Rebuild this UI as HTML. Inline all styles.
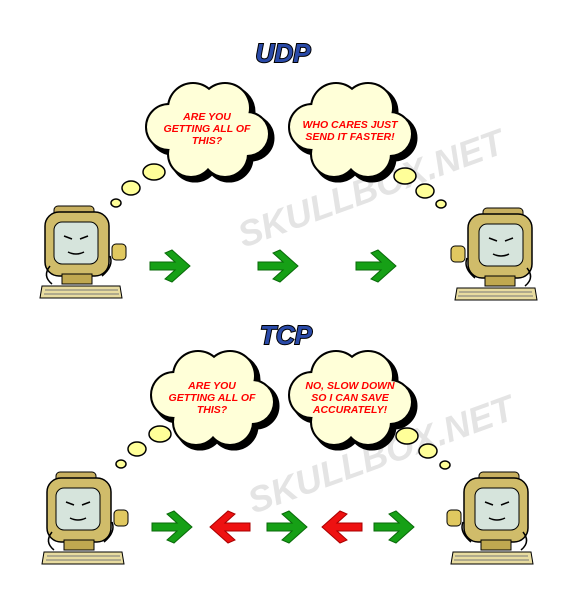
<!DOCTYPE html>
<html><head><style>body{margin:0;background:#fff}svg{display:block}</style></head><body>
<svg width="581" height="603" viewBox="0 0 581 603" xmlns="http://www.w3.org/2000/svg" font-family="Liberation Sans, sans-serif">
<defs>
<g id="cb">
<circle cx="-38" cy="-3" r="22"/><circle cx="-14" cy="-22" r="24"/><circle cx="18" cy="-22" r="24"/><circle cx="40" cy="4" r="21"/><circle cx="18" cy="24" r="22"/><circle cx="-16" cy="24" r="22"/><circle cx="0" cy="0" r="32"/>
</g>
<g id="cloud">
<use href="#cb" transform="translate(4,4)" fill="#000" stroke="#000" stroke-width="5"/>
<use href="#cb" fill="#000" stroke="#000" stroke-width="4"/>
<use href="#cb" fill="#ffffd8"/>
</g>
<g id="comp">
<rect x="14" y="0" width="40" height="10" rx="4" fill="#c8b060" stroke="#000"/>
<rect x="5" y="6" width="64" height="64" rx="14" fill="#d0bc6a" stroke="#000" stroke-width="1.5"/>
<rect x="14" y="16" width="44" height="42" rx="8" fill="#d6e4dc" stroke="#000"/>
<path d="M24,30 l8,3 M48,30 l-8,3 M28,46 q8,4 16,0" stroke="#000" fill="none" stroke-width="1.5"/>
<rect x="22" y="68" width="30" height="10" fill="#c0a850" stroke="#000"/>
<path d="M2,80 L80,80 L82,92 L0,92 Z" fill="#e8dca0" stroke="#000"/>
<path d="M5,84 H78 M4,88 H79" stroke="#777" stroke-width="1"/>
<rect x="72" y="38" width="14" height="16" rx="4" fill="#e0c860" stroke="#000"/>
<path d="M70,50 q4,10 -8,20 M10,60 q-8,10 2,18" stroke="#000" fill="none" stroke-width="1.5"/>
</g>
<g id="ag"><path d="M0,-4 H25 L15,-13 L22,-16 L40,0 L22,16 L15,13 L25,4 H0 Z" fill="#16a016" stroke="#0a6a0a" stroke-width="1"/></g>
<g id="ar"><path d="M0,-4 H25 L15,-13 L22,-16 L40,0 L22,16 L15,13 L25,4 H0 Z" fill="#ee1111" stroke="#aa0000" stroke-width="1"/></g>
</defs>
<g fill="#e4e4e4" font-weight="bold" font-style="italic" font-size="36" text-anchor="middle">
<text transform="translate(375,200) rotate(-20)">SKULLBOX.NET</text>
<text transform="translate(385,466) rotate(-20)">SKULLBOX.NET</text>
</g>
<g font-weight="900" font-style="italic" font-size="26" text-anchor="middle" fill="#2a4aa8" stroke="#000" stroke-width="2" paint-order="stroke">
<text x="283" y="62">UDP</text>
<text x="286" y="344">TCP</text>
</g>
<use href="#cloud" transform="translate(207,130)"/>
<use href="#cloud" transform="translate(350,130)"/>
<use href="#cloud" transform="translate(212,398)"/>
<use href="#cloud" transform="translate(350,398)"/>
<g fill="#ffff99" stroke="#000" stroke-width="1.5">
<ellipse cx="154" cy="172" rx="11" ry="8"/><ellipse cx="131" cy="188" rx="9" ry="7"/><ellipse cx="116" cy="203" rx="5" ry="4"/>
<ellipse cx="405" cy="176" rx="11" ry="8"/><ellipse cx="425" cy="191" rx="9" ry="7"/><ellipse cx="441" cy="204" rx="5" ry="4"/>
<ellipse cx="160" cy="434" rx="11" ry="8"/><ellipse cx="137" cy="449" rx="9" ry="7"/><ellipse cx="121" cy="464" rx="5" ry="4"/>
<ellipse cx="407" cy="436" rx="11" ry="8"/><ellipse cx="428" cy="451" rx="9" ry="7"/><ellipse cx="445" cy="465" rx="5" ry="4"/>
</g>
<g fill="#f00" font-weight="bold" font-style="italic" font-size="10.5" text-anchor="middle">
<text x="207" y="120">ARE YOU</text><text x="207" y="132">GETTING ALL OF</text><text x="207" y="144">THIS?</text>
<text x="350" y="128">WHO CARES JUST</text><text x="350" y="140">SEND IT FASTER!</text>
<text x="212" y="389">ARE YOU</text><text x="212" y="401">GETTING ALL OF</text><text x="212" y="413">THIS?</text>
<text x="350" y="389">NO, SLOW DOWN</text><text x="350" y="401">SO I CAN SAVE</text><text x="350" y="413">ACCURATELY!</text>
</g>
<use href="#comp" transform="translate(40,206)"/>
<use href="#comp" transform="translate(537,208) scale(-1,1)"/>
<use href="#ag" transform="translate(150,266)"/>
<use href="#ag" transform="translate(258,266)"/>
<use href="#ag" transform="translate(356,266)"/>
<use href="#comp" transform="translate(42,472)"/>
<use href="#comp" transform="translate(533,472) scale(-1,1)"/>
<use href="#ag" transform="translate(152,527)"/>
<use href="#ar" transform="translate(250,527) scale(-1,1)"/>
<use href="#ag" transform="translate(267,527)"/>
<use href="#ar" transform="translate(362,527) scale(-1,1)"/>
<use href="#ag" transform="translate(374,527)"/>
</svg>
</body></html>
